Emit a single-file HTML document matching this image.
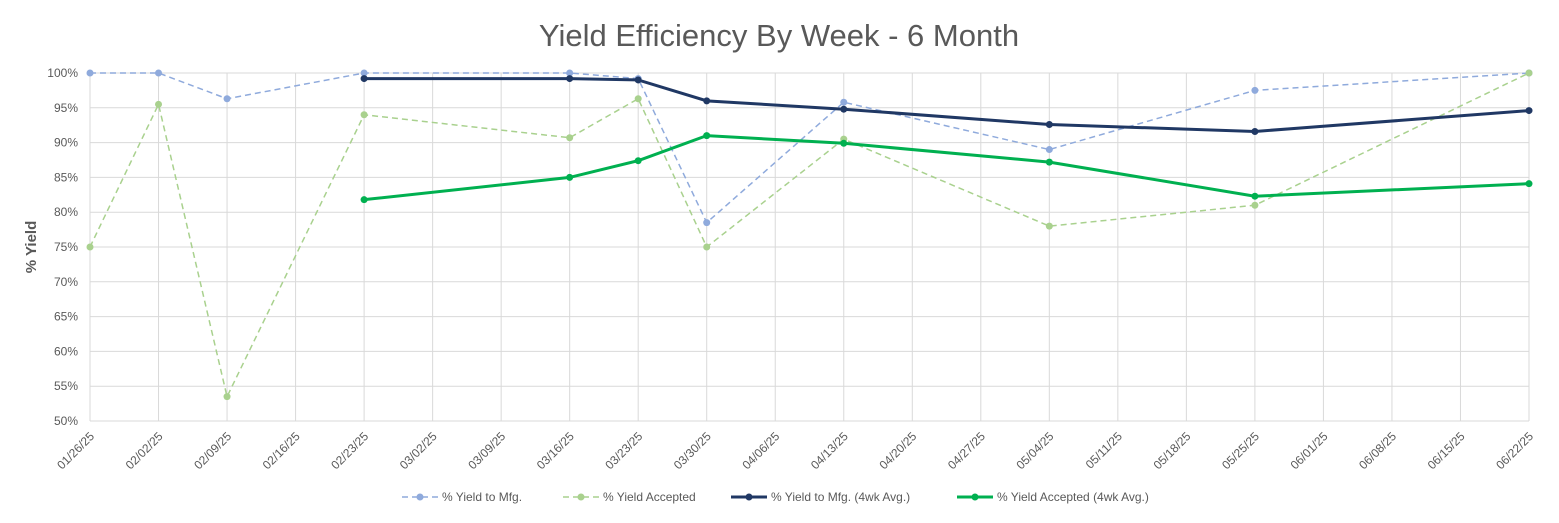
<!DOCTYPE html>
<html><head><meta charset="utf-8"><style>
body{margin:0;background:#fff;font-family:"Liberation Sans",sans-serif;}
svg text{font-family:"Liberation Sans",sans-serif;}
</style></head><body>
<svg id="chart" width="1559" height="518" xmlns="http://www.w3.org/2000/svg">
<text x="779" y="46" text-anchor="middle" font-size="31" fill="#595959">Yield Efficiency By Week - 6 Month</text>
<text transform="translate(36,247) rotate(-90)" text-anchor="middle" font-size="15" font-weight="bold" fill="#595959">% Yield</text>
<g id="grid"></g><g id="series"></g><g id="legend"></g>
</svg>
<script>
const dates=["01/26/25","02/02/25","02/09/25","02/16/25","02/23/25","03/02/25","03/09/25","03/16/25","03/23/25","03/30/25","04/06/25","04/13/25","04/20/25","04/27/25","05/04/25","05/11/25","05/18/25","05/25/25","06/01/25","06/08/25","06/15/25","06/22/25"];
const yTicks=[50,55,60,65,70,75,80,85,90,95,100];
const idx=[0,1,2,4,7,8,9,11,14,17,21];
const mfg=[100,100,96.3,100,100,99.2,78.5,95.8,89,97.5,100];
const acc=[75,95.5,53.5,94,90.7,96.3,75,90.5,78,81,100];
const avgIdx=[4,7,8,9,11,14,17,21];
const mfgAvg=[99.2,99.2,99,96,94.8,92.6,91.6,94.6];
const accAvg=[81.8,85,87.4,91,89.9,87.2,82.3,84.1];
const X0=90,X1=1529,Y0=421,Y1=73;
const xs=i=>X0+(X1-X0)*i/(dates.length-1);
const ys=v=>Y0-(v-50)/50*(Y0-Y1);
const NS="http://www.w3.org/2000/svg";
function mk(t,a,p){const e=document.createElementNS(NS,t);for(const k in a)e.setAttribute(k,a[k]);p.appendChild(e);return e;}
const g=document.getElementById('grid');
yTicks.forEach(v=>{
 const l=mk('line',{x1:X0,x2:X1,y1:ys(v),y2:ys(v),stroke:'#d9d9d9','stroke-width':1},g);
 
 
 const t=mk('text',{x:X0-12,y:ys(v)+4,'text-anchor':'end','font-size':12,fill:'#595959'},g);t.textContent=v+'%';
 
 
});
dates.forEach((d,i)=>{
 const l=mk('line',{x1:xs(i),x2:xs(i),y1:Y1,y2:Y0,stroke:'#d9d9d9','stroke-width':1},g);
 
 
 const t=mk('text',{transform:`translate(${xs(i)+5},${Y0+16}) rotate(-45)`,'text-anchor':'end','font-size':12,fill:'#595959'},g);t.textContent=d;
 
 
});
const s=document.getElementById('series');
function series(ix,vals,color,dash,w,name){
 const p=mk('polyline',{points:ix.map((i,k)=>xs(i)+','+ys(vals[k])).join(' '),fill:'none',stroke:color,'stroke-width':w,'stroke-dasharray':dash},s);
 
 
 ix.forEach((i,k)=>{const c=mk('circle',{cx:xs(i),cy:ys(vals[k]),r:3.5,fill:color},s);
  
  });
}
series(idx,mfg,'#8faadc','6,4',1.5,'yield-to-mfg');
series(idx,acc,'#a9d18e','6,4',1.5,'yield-accepted');
series(avgIdx,mfgAvg,'#203864','',3,'yield-to-mfg-avg');
series(avgIdx,accAvg,'#00b050','',3,'yield-accepted-avg');
const lg=document.getElementById('legend');
[["% Yield to Mfg.",'#8faadc','6,4',1.5,402],["% Yield Accepted",'#a9d18e','6,4',1.5,563],["% Yield to Mfg. (4wk Avg.)",'#203864','',3,731],["% Yield Accepted (4wk Avg.)",'#00b050','',3,957]].forEach(e=>{
 const gr=mk('g',{},lg);
 
 
 mk('line',{x1:e[4],x2:e[4]+36,y1:497,y2:497,stroke:e[1],'stroke-width':e[3],'stroke-dasharray':e[2]},gr);
 mk('circle',{cx:e[4]+18,cy:497,r:3.5,fill:e[1]},gr);
 const t=mk('text',{x:e[4]+40,y:501,'font-size':12,fill:'#595959'},gr);t.textContent=e[0];
});
</script>
</body></html>
